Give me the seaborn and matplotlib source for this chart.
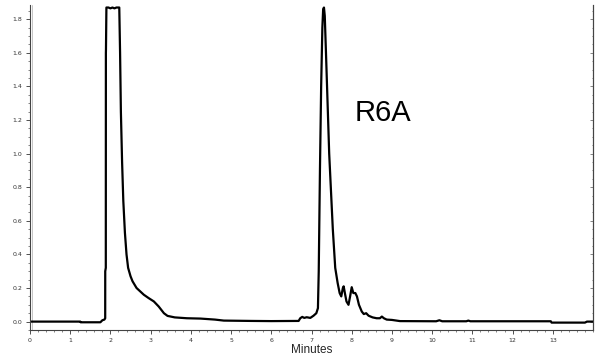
import numpy as np
import pandas as pd
import matplotlib
matplotlib.use("Agg")
import matplotlib.pyplot as plt
import seaborn as sns
from matplotlib.ticker import MultipleLocator

sns.set_theme(style="white")
plt.rcParams['font.family'] = ['DejaVu Sans']

time_min = [0.0, 1.25, 1.26, 1.75, 1.80, 1.85, 1.870, 1.871, 1.885, 1.887, 1.889, 1.90,
            1.95, 2.0, 2.05, 2.1, 2.15, 2.22, 2.24, 2.26, 2.29, 2.32, 2.36, 2.40, 2.44,
            2.50, 2.55, 2.65, 2.83, 2.95, 3.08, 3.20, 3.33, 3.42, 3.60, 3.90, 4.24, 4.60,
            4.82, 5.50, 6.00, 6.68, 6.72, 6.77, 6.82, 6.88, 6.97, 7.05, 7.12, 7.16, 7.18,
            7.21, 7.24, 7.27, 7.29, 7.31, 7.33, 7.36, 7.40, 7.44, 7.48, 7.53, 7.59, 7.65,
            7.70, 7.74, 7.78, 7.80, 7.83, 7.87, 7.92, 7.96, 8.00, 8.04, 8.09, 8.13, 8.18,
            8.25, 8.30, 8.36, 8.42, 8.52, 8.62, 8.70, 8.75, 8.80, 8.87, 9.00, 9.20, 10.10,
            10.18, 10.25, 10.85, 10.90, 10.95, 12.95, 12.97, 13.80, 13.85, 14.00]
absorbance = [0.0, 0.0, -0.004, -0.004, 0.008, 0.012, 0.02, 0.30, 0.32, 1.60, 1.62, 1.87,
              1.87, 1.865, 1.87, 1.865, 1.87, 1.87, 1.60, 1.25, 0.95, 0.72, 0.53, 0.40, 0.32,
              0.27, 0.24, 0.20, 0.16, 0.14, 0.12, 0.09, 0.05, 0.034, 0.025, 0.02, 0.018, 0.012,
              0.006, 0.004, 0.003, 0.004, 0.02, 0.028, 0.022, 0.026, 0.022, 0.035, 0.05, 0.08, 0.30,
              0.90, 1.40, 1.75, 1.86, 1.87, 1.82, 1.60, 1.30, 1.00, 0.80, 0.55, 0.32, 0.23,
              0.17, 0.15, 0.20, 0.21, 0.17, 0.12, 0.10, 0.15, 0.205, 0.17, 0.17, 0.15, 0.10,
              0.06, 0.045, 0.05, 0.035, 0.025, 0.02, 0.02, 0.03, 0.02, 0.012, 0.01, 0.003, 0.002,
              0.008, 0.002, 0.002, 0.006, 0.002, 0.002, -0.006, -0.006, 0.0, 0.0]

x_ticks = list(range(0, 14))
y_ticks = [0.0, 0.2, 0.4, 0.6, 0.8, 1.0, 1.2, 1.4, 1.6, 1.8]
x_label = "Minutes"
annotation = "R6A"

df = pd.DataFrame({"Minutes": time_min, "Abs": absorbance})

fig = plt.figure(figsize=(6.11, 3.58), dpi=100)
ax = fig.add_axes([30/611, 28/358, 563/611, 325/358])
sns.lineplot(data=df, x="Minutes", y="Abs", ax=ax, color="black", linewidth=1.6,
             estimator=None, sort=False)

ax.set_xlim(0, 14)
ax.set_ylim(-0.05, 1.885)
ax.set_xticks(x_ticks)
ax.set_xticklabels([str(v) for v in x_ticks])
ax.set_yticks(y_ticks)
ax.set_yticklabels([f"{v:.1f}" for v in y_ticks])
ax.xaxis.set_minor_locator(MultipleLocator(0.2))
ax.yaxis.set_minor_locator(MultipleLocator(0.05))
ax.tick_params(axis='both', which='major', labelsize=4.5, length=3, width=0.6,
               colors='#333333', pad=2.5, direction='out', bottom=True, left=True)
ax.tick_params(axis='both', which='minor', length=1.5, width=0.5, colors='#555555',
               bottom=True, left=True)
ax.set_xlabel(x_label, fontsize=8.5, family='Liberation Sans', labelpad=1)
ax.set_ylabel("")

for side in ["left", "bottom", "right"]:
    ax.spines[side].set_visible(True)
    ax.spines[side].set_color("#444444")
    ax.spines[side].set_linewidth(0.8)
ax.spines["top"].set_visible(False)

sec = ax.secondary_yaxis('right')
sec.set_yticks(y_ticks)
sec.yaxis.set_minor_locator(MultipleLocator(0.05))
sec.tick_params(which='both', direction='in', labelright=False, length=2, width=0.5, colors='#555555')
sec.tick_params(which='minor', length=1)
sec.spines['right'].set_color("#444444")
sec.spines['right'].set_linewidth(0.8)

ax.axvline(0.06, color="#bbbbbb", linewidth=0.6, zorder=0)

ax.text(8.78, 1.24, annotation, fontsize=21, family='Liberation Sans',
        ha='center', va='center', color='black')

fig.savefig("out.png", dpi=100, facecolor="white")
